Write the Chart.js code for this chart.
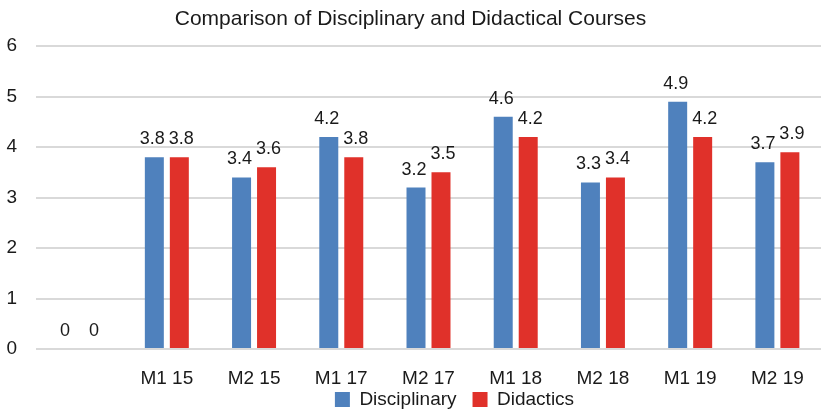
<!DOCTYPE html>
<html>
<head>
<meta charset="utf-8">
<script src="https://cdn.jsdelivr.net/npm/chart.js@4"></script>
<style>
  body { margin: 0; background: #fff; }
  #wrap { width: 821px; height: 412px; }
</style>
</head>
<body>
<div id="wrap"><canvas id="courseChart"></canvas></div>
<script>
var categories = ["", "M1 15", "M2 15", "M1 17", "M2 17", "M1 18", "M2 18", "M1 19", "M2 19"];
var disciplinary = [0, 3.8, 3.4, 4.2, 3.2, 4.6, 3.3, 4.9, 3.7];
var didactics = [0, 3.8, 3.6, 3.8, 3.5, 4.2, 3.4, 4.2, 3.9];
var yTicks = [0, 1, 2, 3, 4, 5, 6];

var fontFamily = "'Liberation Sans', Arial, sans-serif";

// draws the value above each bar
var valueLabels = {
  id: 'valueLabels',
  afterDatasetsDraw: function(chart) {
    var ctx = chart.ctx;
    ctx.save();
    ctx.font = "18px " + fontFamily;
    ctx.fillStyle = "#1a1a1a";
    ctx.textAlign = "center";
    ctx.textBaseline = "alphabetic";
    chart.data.datasets.forEach(function(ds, i) {
      var nudge = i === 0 ? -2 : 2;
      chart.getDatasetMeta(i).data.forEach(function(bar, j) {
        ctx.fillText(String(ds.data[j]), bar.x + nudge, bar.y - 13);
      });
    });
    ctx.restore();
  }
};

// legend: tighter box, moved up and a bit right like the original
var legendTweak = {
  id: 'legendTweak',
  afterInit: function(chart) {
    var lg = chart.legend;
    var origFit = lg.fit;
    lg.fit = function() {
      origFit.call(this);
      this.height = 23;
    };
  },
  afterLayout: function(chart) {
    var lg = chart.legend;
    lg.left += 44;
    lg.right += 44;
    lg.top -= 15;
    lg.bottom = chart.height;
  }
};

var ctxChart = document.getElementById("courseChart").getContext("2d");

new Chart(ctxChart, {
  type: 'bar',
  data: {
    labels: categories,
    datasets: [
      {
        label: "Disciplinary",
        data: disciplinary,
        backgroundColor: "#4f81bd",
        borderWidth: 0
      },
      {
        label: "Didactics",
        data: didactics,
        backgroundColor: "#e0312a",
        borderWidth: 0
      }
    ]
  },
  options: {
    responsive: true,
    maintainAspectRatio: false,
    animation: false,
    layout: { padding: { left: 0, right: 0, top: 7, bottom: 0 } },
    datasets: {
      bar: { categoryPercentage: 0.573, barPercentage: 0.76 }
    },
    plugins: {
      title: {
        display: true,
        text: "Comparison of Disciplinary and Didactical Courses",
        color: "#1a1a1a",
        font: { family: fontFamily, size: 21, weight: 'normal' },
        padding: { top: 0, bottom: 14 }
      },
      legend: {
        position: 'bottom',
        labels: {
          color: "#1a1a1a",
          font: { family: fontFamily, size: 19 },
          boxWidth: 15,
          boxHeight: 15,
          padding: 16
        }
      },
      tooltip: { enabled: false }
    },
    scales: {
      x: {
        grid: { display: false },
        border: { display: false },
        afterFit: function(axis) {
          axis.height = 40;
        },
        ticks: {
          color: "#1a1a1a",
          font: { family: fontFamily, size: 19 },
          padding: 10,
          maxRotation: 0
        }
      },
      y: {
        min: 0,
        max: 6,
        afterBuildTicks: function(axis) {
          axis.ticks = yTicks.map(function(v) { return { value: v }; });
        },
        afterFit: function(axis) {
          axis.width = 36;
        },
        grid: { color: "#d9d9d9", lineWidth: 2, drawTicks: false },
        border: { display: false },
        ticks: {
          color: "#1a1a1a",
          font: { family: fontFamily, size: 19 },
          padding: 19
        }
      }
    }
  },
  plugins: [valueLabels, legendTweak]
});
</script>
</body>
</html>
